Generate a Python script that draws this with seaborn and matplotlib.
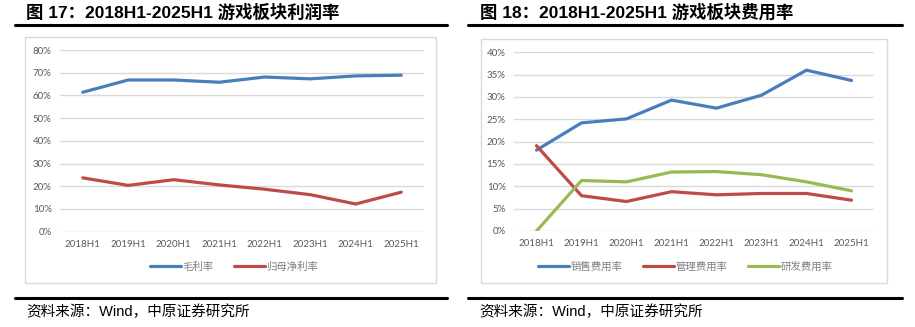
import matplotlib
matplotlib.use("Agg")
import matplotlib.pyplot as plt
from matplotlib.patches import Rectangle
from matplotlib.lines import Line2D
from matplotlib.ticker import FuncFormatter
import seaborn as sns
import pandas as pd

periods = ["2018H1", "2019H1", "2020H1", "2021H1", "2022H1", "2023H1", "2024H1", "2025H1"]

gross_margin = [61.4, 66.8, 66.8, 65.8, 68.1, 67.3, 68.6, 68.9]
net_margin = [23.7, 20.4, 22.9, 20.6, 18.7, 16.3, 12.2, 17.4]

sales_rate = [18.1, 24.2, 25.1, 29.3, 27.5, 30.4, 36.0, 33.7]
admin_rate = [19.1, 7.9, 6.6, 8.8, 8.1, 8.4, 8.4, 6.9]
rd_rate = [0.0, 11.3, 11.0, 13.2, 13.3, 12.6, 11.0, 9.0]

left_names = ["毛利率", "归母净利率"]
right_names = ["销售费用率", "管理费用率", "研发费用率"]

BLUE, RED, GREEN = "#4a7ebb", "#be4b48", "#98b954"

sns.set_theme(style="white")
plt.rcParams["font.family"] = ["Liberation Sans", "Noto Sans CJK SC", "DejaVu Sans"]

W, H = 915, 327
fig = plt.figure(figsize=(W / 100, H / 100), dpi=100)


def fx(px):
    return px / W


def fy(py):
    return 1 - py / H


def make_df(names, series):
    rows = []
    for n, vals in zip(names, series):
        for p, v in zip(periods, vals):
            rows.append({"period": p, "value": v, "series": n})
    return pd.DataFrame(rows)


def style_axes(ax, ymax, ystep):
    ax.set_xlim(-0.5, len(periods) - 0.5)
    ax.set_ylim(0, ymax)
    ax.set_yticks([i * ystep for i in range(int(round(ymax / ystep)) + 1)])
    ax.yaxis.set_major_formatter(FuncFormatter(lambda v, _: f"{v:.0f}%"))
    ax.grid(axis="y", color="#d9d9d9", lw=1.0)
    ax.grid(axis="x", visible=False)
    for s in ax.spines.values():
        s.set_visible(False)
    ax.tick_params(axis="both", length=0, labelsize=7, colors="#595959", pad=6)
    ax.set_xlabel("")
    ax.set_ylabel("")
    ax.set_axisbelow(True)
    for t in ax.get_xticklabels() + ax.get_yticklabels():
        t.set_family(["Lato", "DejaVu Sans"])


def frame(x0, y0, x1, y1):
    fig.patches.append(Rectangle((fx(x0), fy(y1)), fx(x1 - x0), (y1 - y0) / H,
                                 transform=fig.transFigure, fill=False,
                                 edgecolor="#d9d9d9", lw=1.0, zorder=0))


def hline(x0, x1, y):
    fig.add_artist(Line2D([fx(x0), fx(x1)], [fy(y), fy(y)], transform=fig.transFigure,
                          color="black", lw=2.2))


# ---------- Left chart ----------
frame(25, 37, 436, 283)
axL = fig.add_axes([fx(60), fy(231.7), fx(424 - 60), (231.7 - 50) / H])
dfL = make_df(left_names, [gross_margin, net_margin])
sns.lineplot(data=dfL, x="period", y="value", hue="series", palette=[BLUE, RED],
             sort=False, lw=2.3, ax=axL, legend=False)
style_axes(axL, 80, 10)
handlesL = [Line2D([], [], color=c, lw=2.3) for c in [BLUE, RED]]
fig.legend(handlesL, left_names, loc="center", bbox_to_anchor=(fx(234), fy(267)),
           ncol=2, frameon=False, labelcolor="#7f7f7f",
           handlelength=3.0, handletextpad=0.1, columnspacing=2.0,
           prop={"family": ["Noto Sans CJK SC"], "size": 7.5})

# ---------- Right chart ----------
frame(481, 39, 887, 283)
axR = fig.add_axes([fx(514), fy(231), fx(874 - 514), (231 - 52.3) / H])
dfR = make_df(right_names, [sales_rate, admin_rate, rd_rate])
sns.lineplot(data=dfR, x="period", y="value", hue="series", palette=[BLUE, RED, GREEN],
             sort=False, lw=2.3, ax=axR, legend=False)
style_axes(axR, 40, 5)
handlesR = [Line2D([], [], color=c, lw=2.3) for c in [BLUE, RED, GREEN]]
fig.legend(handlesR, right_names, loc="center", bbox_to_anchor=(fx(685), fy(267)),
           ncol=3, frameon=False, labelcolor="#7f7f7f",
           handlelength=3.0, handletextpad=0.1, columnspacing=2.0,
           prop={"family": ["Noto Sans CJK SC"], "size": 7.5})

# ---------- Titles, rules, sources ----------
title_font = ["Liberation Sans", "Noto Sans CJK SC"]
fig.text(fx(26), fy(12), "图 17：2018H1-2025H1 游戏板块利润率", fontsize=12.5,
         fontweight="bold", family=title_font, va="center", ha="left", color="black")
fig.text(fx(480), fy(12), "图 18：2018H1-2025H1 游戏板块费用率", fontsize=12.5,
         fontweight="bold", family=title_font, va="center", ha="left", color="black")
hline(15, 447, 25)
hline(468, 902, 25)
hline(15, 447, 298)
hline(468, 902, 298)
fig.text(fx(26), fy(312), "资料来源：Wind，中原证券研究所", fontsize=10.5,
         family=title_font, va="center", ha="left", color="black")
fig.text(fx(479), fy(312), "资料来源：Wind，中原证券研究所", fontsize=10.5,
         family=title_font, va="center", ha="left", color="black")

fig.savefig("out.png", dpi=100)
